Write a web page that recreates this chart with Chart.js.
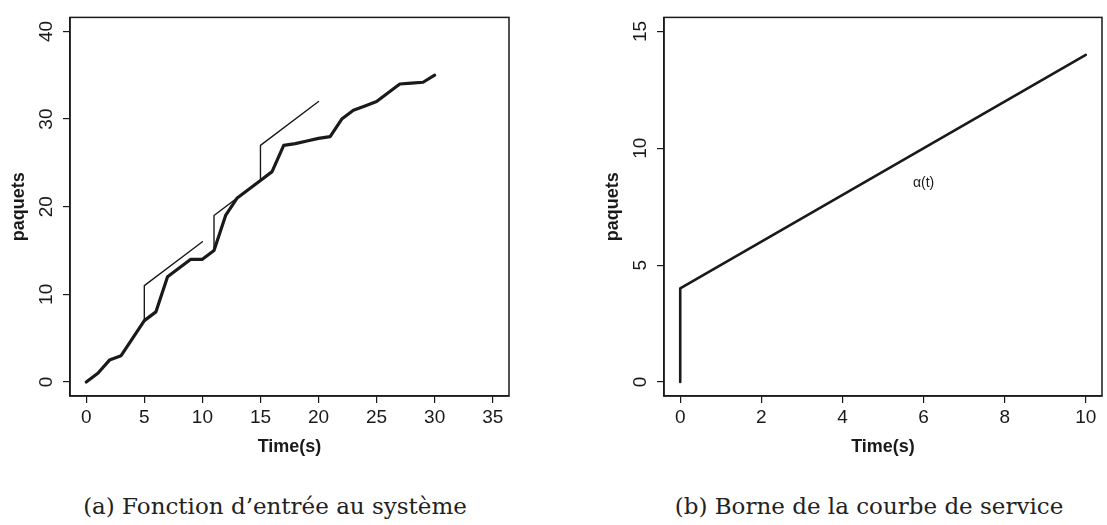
<!DOCTYPE html>
<html lang="fr">
<head>
<meta charset="UTF-8">
<title>Courbes d'arrivée et de service</title>
<script src="https://cdn.jsdelivr.net/npm/chart.js"></script>
<style>
  body { margin: 0; width: 1107px; height: 525px; background: #fff; position: relative; overflow: hidden; }
  canvas { position: absolute; top: 0; }
  #chartA { left: 0; }
  #chartB { left: 594px; }
  .caption {
    position: absolute; top: 493px; line-height: 27px;
    font-family: "DejaVu Serif", serif; font-size: 23px; color: #222;
    white-space: nowrap; transform: translateX(-50%);
  }
</style>
</head>
<body>
<canvas id="chartA" width="550" height="470"></canvas>
<canvas id="chartB" width="513" height="470"></canvas>
<div class="caption" style="left:275px">(a) Fonction d’entrée au système</div>
<div class="caption" style="left:869px">(b) Borne de la courbe de service</div>

<script>
// (a) paquets arrivés, cumulés seconde par seconde
const arrivalTimes   = [0, 1, 2, 3, 4, 5, 6, 7, 8, 9, 10, 11, 12, 13, 14, 15,
                        16, 17, 18, 19, 20, 21, 22, 23, 24, 25, 26, 27, 28, 29, 30];
const arrivalPackets = [0, 1, 2.5, 3, 5, 7, 8, 12, 13, 14, 14, 15, 19, 21, 22, 23,
                        24, 27, 27.2, 27.5, 27.8, 28, 30, 31, 31.5, 32, 33, 34, 34.1, 34.2, 35];

// bornes tracées sur deux fenêtres
const bound1Times   = [5, 5, 10];
const bound1Packets = [7, 11, 16];
const bound2Times   = [11, 11, 15, 15, 20];
const bound2Packets = [15, 19, 23, 27, 32];

const ticksAx = [0, 5, 10, 15, 20, 25, 30, 35];
const ticksAy = [0, 10, 20, 30, 40];

// (b) borne de la courbe de service
const serviceTimes   = [0, 0, 10];
const servicePackets = [0, 4, 14];

const ticksBx = [0, 2, 4, 6, 8, 10];
const ticksBy = [0, 5, 10, 15];

const ink = '#1a1a1a';
const sans = '"Liberation Sans", Arial, sans-serif';

function pts(xs, ys) {
  return xs.map((x, i) => ({ x: x, y: ys[i] }));
}

function axis(min, max, ticks, title, isY) {
  return {
    type: 'linear',
    min: min,
    max: max,
    afterBuildTicks: s => { s.ticks = ticks.map(v => ({ value: v })); },
    afterFit: s => { if (isY) s.width = 70; else s.height = 74; },
    grid: { drawOnChartArea: false, drawTicks: true, tickLength: 7, color: ink, lineWidth: 1.2 },
    border: { display: true, color: ink, width: 1.5 },
    ticks: isY
      ? { font: { family: sans, size: 19 }, color: ink, padding: 6,
          minRotation: 90, maxRotation: 90, crossAlign: 'center' }
      : { font: { family: sans, size: 19 }, color: ink, padding: 3, maxRotation: 0 },
    title: {
      display: true,
      text: title,
      color: ink,
      font: { family: sans, size: 18, weight: 'bold' },
      padding: isY ? { top: 8 } : { bottom: 12 }
    }
  };
}

// cadre autour de la zone de tracé
const frame = {
  id: 'frame',
  afterDraw(chart) {
    const { ctx, chartArea: a } = chart;
    ctx.save();
    ctx.strokeStyle = ink;
    ctx.lineWidth = 1.5;
    ctx.strokeRect(a.left, a.top, a.right - a.left, a.bottom - a.top);
    ctx.restore();
  }
};

const curveLabel = {
  id: 'curveLabel',
  afterDatasetsDraw(chart, args, opts) {
    if (!opts.text) return;
    const { ctx, scales: { x, y } } = chart;
    ctx.save();
    ctx.font = '14px ' + sans;
    ctx.fillStyle = ink;
    ctx.textAlign = 'center';
    ctx.textBaseline = 'middle';
    ctx.fillText(opts.text, x.getPixelForValue(opts.at[0]), y.getPixelForValue(opts.at[1]));
    ctx.restore();
  }
};

function line(data, width) {
  return {
    data: data,
    borderColor: ink,
    borderWidth: width,
    pointRadius: 0,
    fill: false,
    tension: 0,
    borderJoinStyle: 'round',
    borderCapStyle: 'round'
  };
}

new Chart(document.getElementById('chartA'), {
  type: 'line',
  data: {
    datasets: [
      line(pts(bound1Times, bound1Packets), 1.4),
      line(pts(bound2Times, bound2Packets), 1.4),
      line(pts(arrivalTimes, arrivalPackets), 3.2)
    ]
  },
  options: {
    responsive: false,
    animation: false,
    layout: { padding: { left: 0, right: 41, top: 7, bottom: 0 } },
    scales: {
      x: axis(-1.4, 36.4, ticksAx, 'Time(s)', false),
      y: axis(-1.6, 41.6, ticksAy, 'paquets', true)
    },
    plugins: { legend: { display: false }, tooltip: { enabled: false } }
  },
  plugins: [frame]
});

new Chart(document.getElementById('chartB'), {
  type: 'line',
  data: {
    datasets: [line(pts(serviceTimes, servicePackets), 2.6)]
  },
  options: {
    responsive: false,
    animation: false,
    layout: { padding: { left: 0, right: 5, top: 7, bottom: 0 } },
    scales: {
      x: axis(-0.4, 10.4, ticksBx, 'Time(s)', false),
      y: axis(-0.6, 15.6, ticksBy, 'paquets', true)
    },
    plugins: {
      legend: { display: false },
      tooltip: { enabled: false },
      curveLabel: { text: 'α(t)', at: [6, 8.5] }
    }
  },
  plugins: [frame, curveLabel]
});
</script>
</body>
</html>
